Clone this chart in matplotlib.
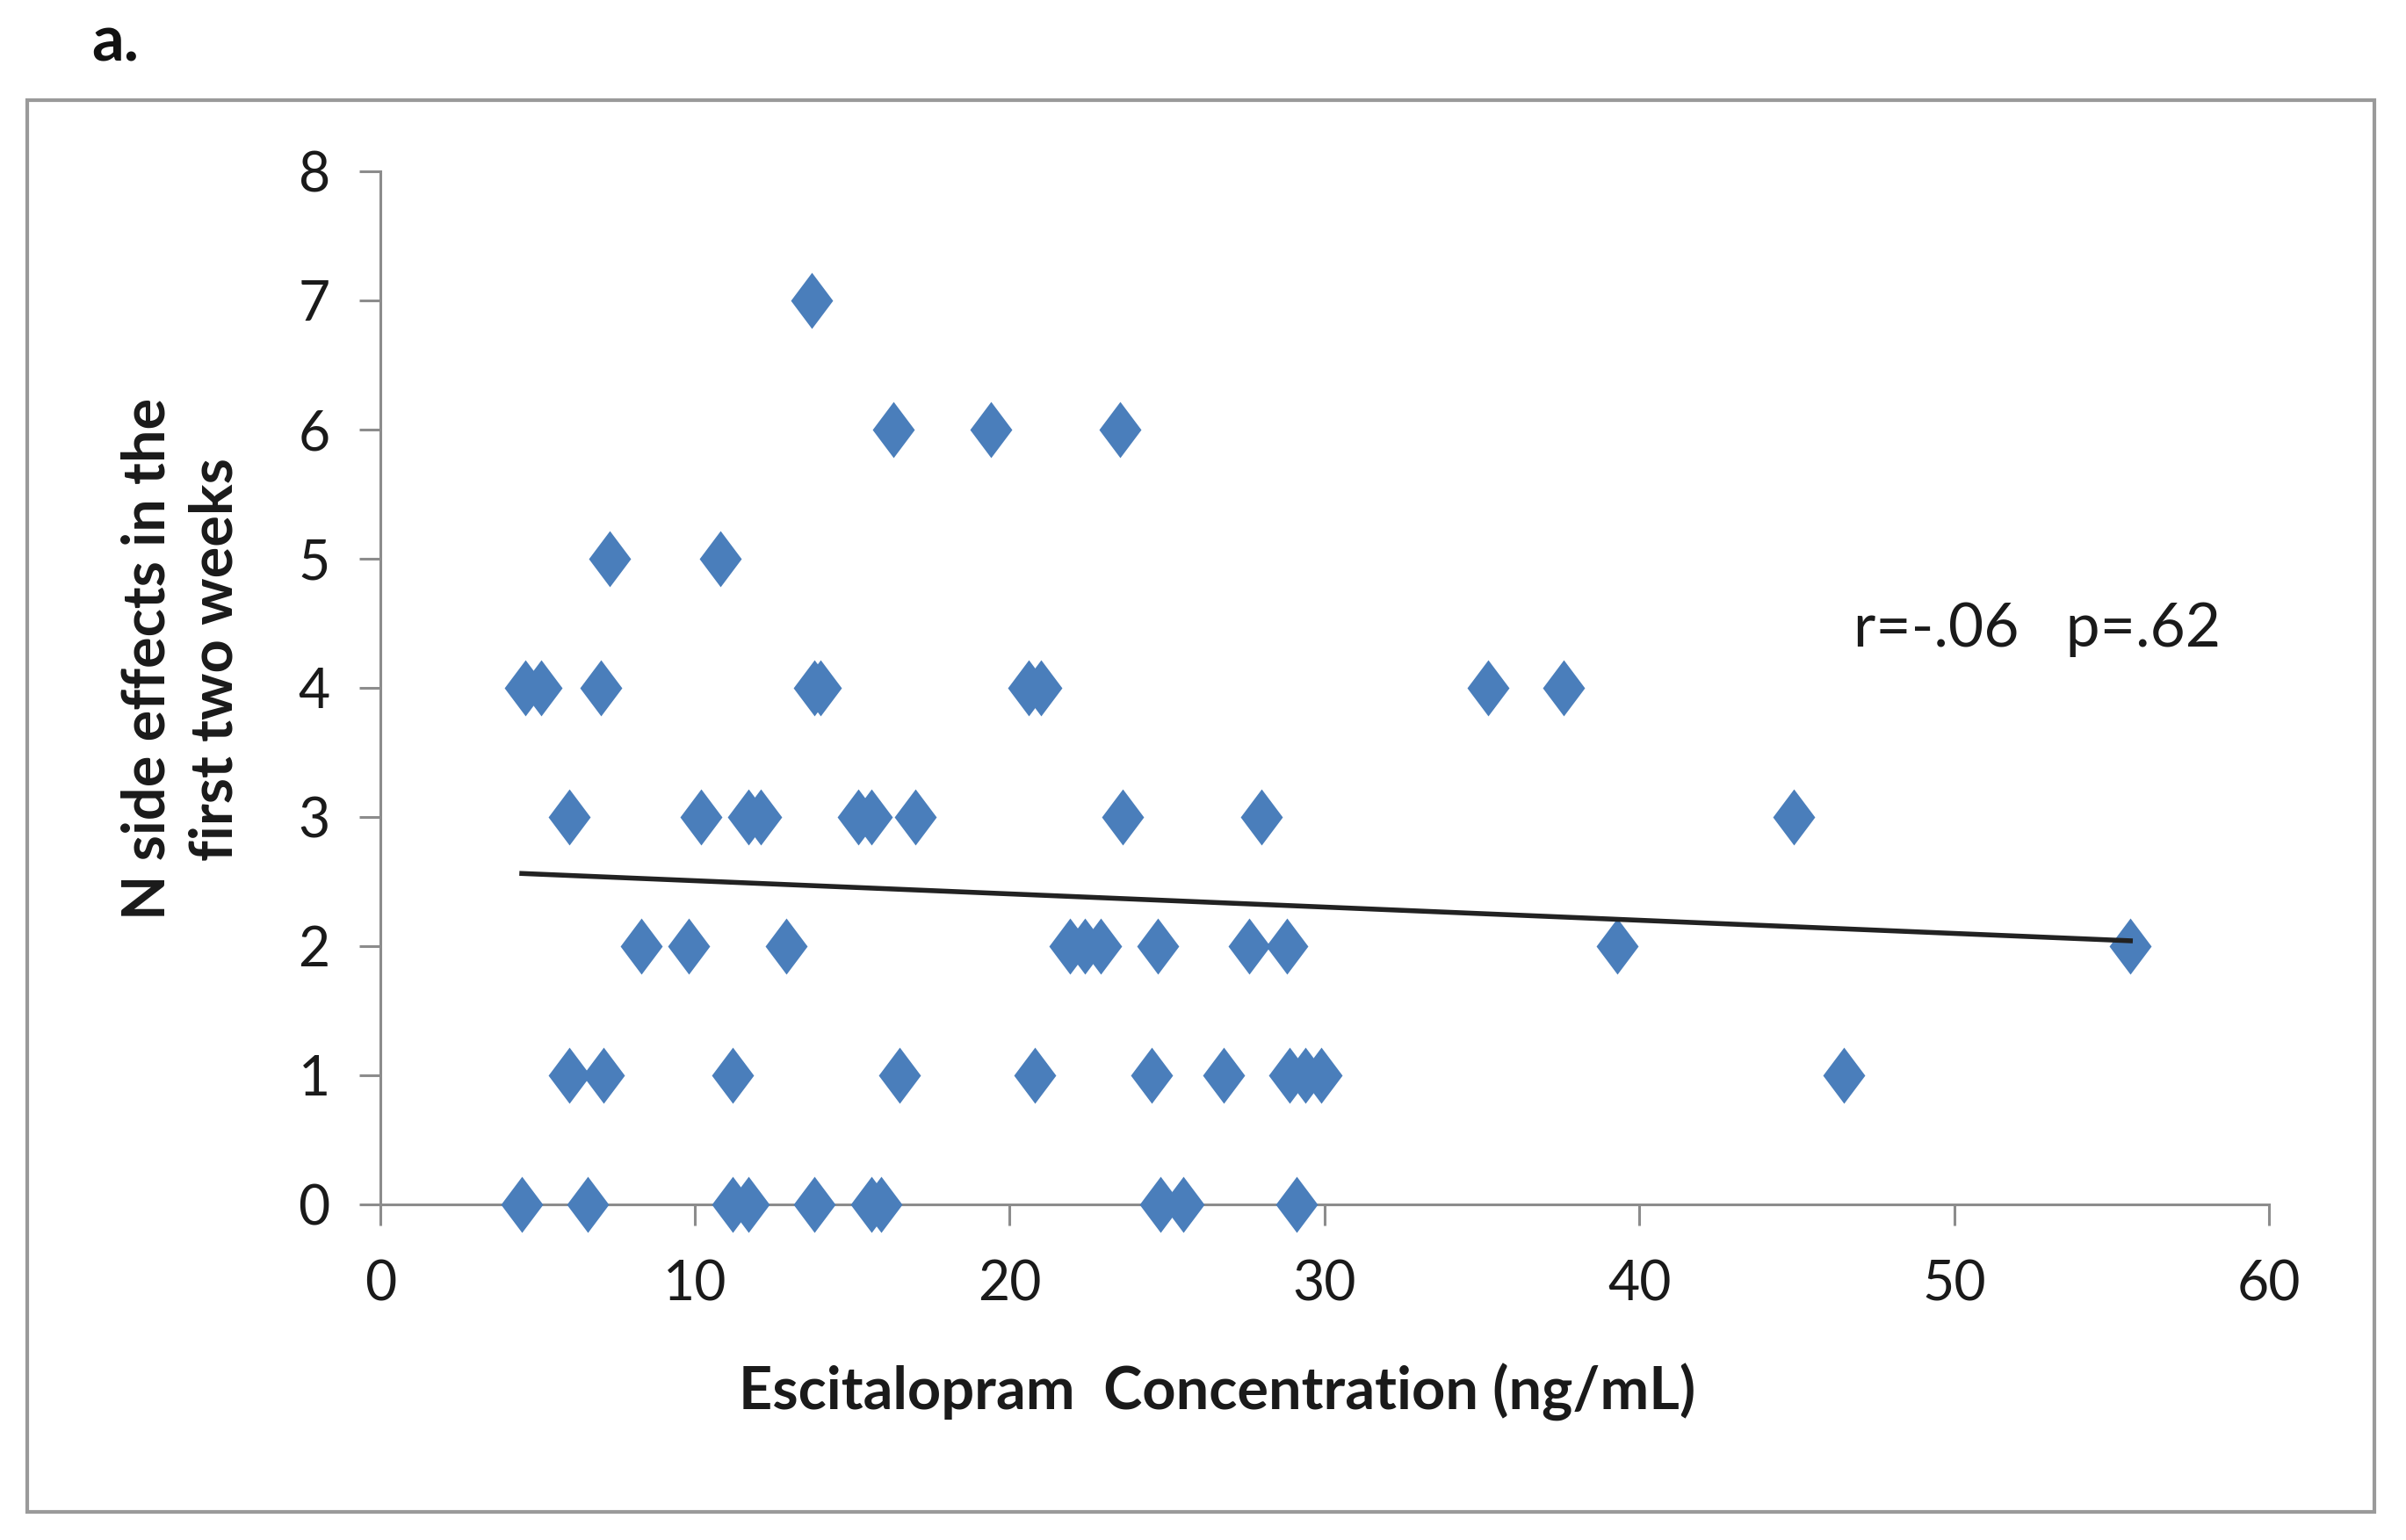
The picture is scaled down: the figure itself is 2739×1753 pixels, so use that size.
import numpy as np
import matplotlib.pyplot as plt
from matplotlib.path import Path
from matplotlib.patches import Rectangle

plt.rcParams['font.family'] = ['Lato', 'DejaVu Sans']

# escitalopram concentration (ng/mL) and number of side effects, read row by row
conc = [13.7,
        16.3, 19.4, 23.5,
        7.3, 10.8,
        4.6, 5.1, 7.0, 13.8, 14.0, 20.6, 21.0, 35.2, 37.6,
        6.0, 10.2, 11.7, 12.1, 15.2, 15.6, 17.0, 23.6, 28.0, 44.9,
        8.3, 9.8, 12.9, 21.9, 22.4, 22.9, 24.7, 27.6, 28.8, 39.3, 55.6,
        6.0, 7.1, 11.2, 16.5, 20.8, 24.5, 26.8, 28.9, 29.4, 29.9, 46.5,
        4.5, 6.6, 11.2, 11.7, 13.8, 15.6, 15.9, 24.8, 25.5, 29.1]
n_side = [7,
          6, 6, 6,
          5, 5,
          4, 4, 4, 4, 4, 4, 4, 4, 4,
          3, 3, 3, 3, 3, 3, 3, 3, 3, 3,
          2, 2, 2, 2, 2, 2, 2, 2, 2, 2, 2,
          1, 1, 1, 1, 1, 1, 1, 1, 1, 1, 1,
          0, 0, 0, 0, 0, 0, 0, 0, 0, 0]

# excel linear trendline
trend_slope = -0.0102
trend_intercept = 2.607

x_ticks = [0, 10, 20, 30, 40, 50, 60]
y_ticks = [0, 1, 2, 3, 4, 5, 6, 7, 8]

fig = plt.figure(figsize=(27.39, 17.53), dpi=100)
ax = fig.add_axes([0.158, 0.218, 0.785, 0.671])

# taller-than-wide diamond like excel's marker
diamond = Path([(0, 1), (0.75, 0), (0, -1), (-0.75, 0), (0, 1)],
               [Path.MOVETO, Path.LINETO, Path.LINETO, Path.LINETO, Path.CLOSEPOLY])
ax.scatter(conc, n_side, marker=diamond, s=46 ** 2, color='#4a7ebb',
           linewidths=0, zorder=3, clip_on=False)

xs = np.array([min(conc), max(conc)])
ax.plot(xs, trend_intercept + trend_slope * xs, color='#222222', lw=4, zorder=4)

ax.set_xlim(0, 60)
ax.set_ylim(0, 8)
ax.set_xticks(x_ticks)
ax.set_yticks(y_ticks)
for s in ['top', 'right']:
    ax.spines[s].set_visible(False)
for s in ['left', 'bottom']:
    ax.spines[s].set_color('#8c8c8c')
    ax.spines[s].set_linewidth(2.2)
ax.tick_params(axis='both', direction='out', length=17, width=2.2,
               color='#8c8c8c', labelsize=45, labelcolor='#1a1a1a')
ax.tick_params(axis='x', pad=28)
ax.tick_params(axis='y', pad=24)
ax.spines['left'].set_bounds(0, 8)

ax.text(46.8, 4.45, 'r=-.06   p=.62', fontsize=50, va='center', ha='left',
        color='#1a1a1a')

fig.text(0.506, 0.096, 'Escitalopram  Concentration (ng/mL)', fontsize=48,
         fontweight='bold', ha='center', va='center', color='#1a1a1a')
fig.text(0.0755, 0.572, 'N side effects in the\nfirst two weeks', fontsize=48,
         fontweight='bold', ha='center', va='center', rotation=90,
         linespacing=1.3, color='#1a1a1a')
fig.text(0.038, 0.972, 'a.', fontsize=52, fontweight='bold', ha='left',
         va='center', color='#111111')

fig.patches.append(Rectangle((0.0115, 0.018), 0.9755, 0.917, transform=fig.transFigure,
                             fill=False, edgecolor='#9a9a9a', lw=3))

fig.savefig('out.png', dpi=100)
